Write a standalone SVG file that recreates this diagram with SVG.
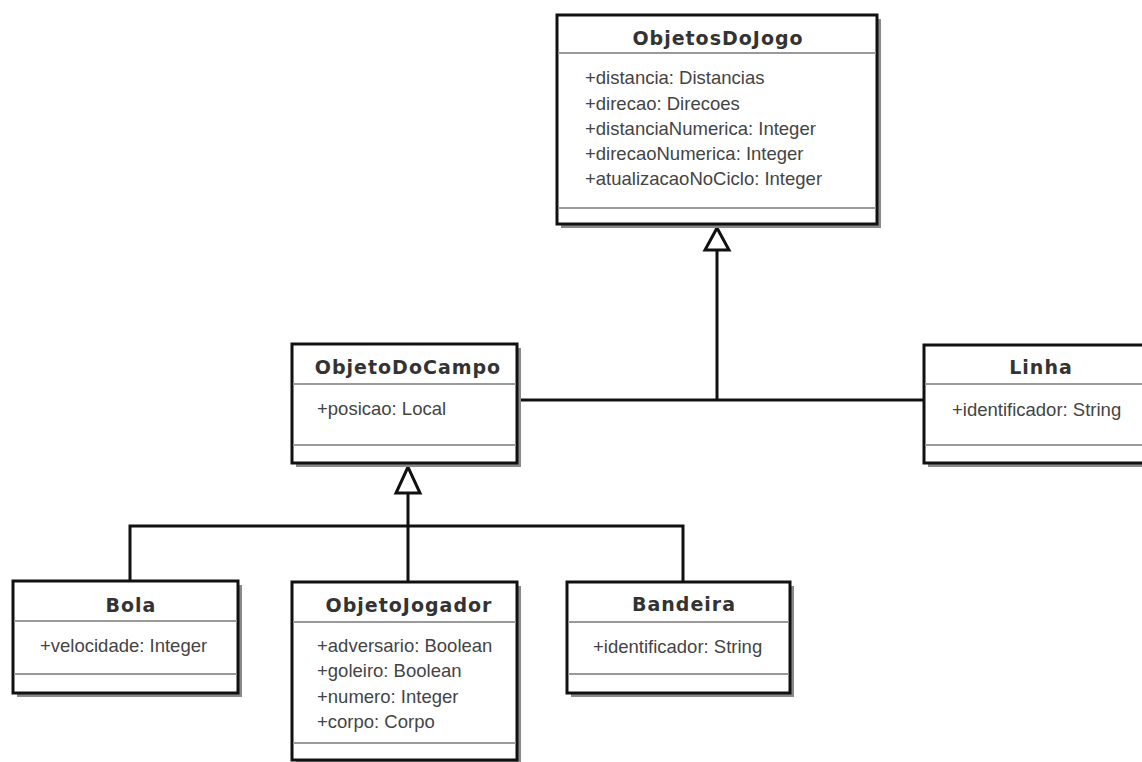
<svg xmlns="http://www.w3.org/2000/svg" width="1142" height="762" viewBox="0 0 1142 762">
  <style>
    .shadow { fill: #8a8a8a; }
    .box { fill: #ffffff; stroke: #111111; stroke-width: 3; }
    .sep { stroke: #9a9a9a; stroke-width: 2; }
    .title { font-family: "DejaVu Sans", Verdana, sans-serif; font-weight: bold; font-size: 19px; letter-spacing: 1px; fill: #333333; text-anchor: middle; }
    .attr { font-family: "Liberation Sans", Arial, sans-serif; font-size: 18.5px; fill: #444444; }
    .edge { fill: none; stroke: #111111; stroke-width: 3; }
    .head { fill: #ffffff; stroke: #111111; stroke-width: 3; stroke-linejoin: miter; }
  </style>

  <!-- generalization connectors -->
  <g id="connectors">
    <path class="edge" d="M717 250 V400 M517 400 H924"/>
    <polygon class="head" points="717,228 705,250 729,250"/>
    <path class="edge" d="M408 493 V582 M130 581 V526 H683 V582"/>
    <polygon class="head" points="408,467 396,493 420,493"/>
  </g>

  <g id="ObjetosDoJogo">
    <rect class="shadow" x="561" y="19" width="320" height="209"/>
    <rect class="box" x="557" y="15" width="320" height="209"/>
    <line class="sep" x1="558" y1="53" x2="876" y2="53"/>
    <line class="sep" x1="558" y1="208" x2="876" y2="208"/>
    <text class="title" x="718" y="45">ObjetosDoJogo</text>
    <text class="attr" x="585" y="84">+distancia: Distancias</text>
    <text class="attr" x="585" y="110">+direcao: Direcoes</text>
    <text class="attr" x="585" y="135">+distanciaNumerica: Integer</text>
    <text class="attr" x="585" y="160">+direcaoNumerica: Integer</text>
    <text class="attr" x="585" y="185">+atualizacaoNoCiclo: Integer</text>
  </g>

  <g id="ObjetoDoCampo">
    <rect class="shadow" x="296" y="348" width="225" height="119"/>
    <rect class="box" x="292" y="344" width="225" height="119"/>
    <line class="sep" x1="293" y1="384" x2="516" y2="384"/>
    <line class="sep" x1="293" y1="445" x2="516" y2="445"/>
    <text class="title" x="408" y="374">ObjetoDoCampo</text>
    <text class="attr" x="317" y="415">+posicao: Local</text>
  </g>

  <g id="Linha">
    <rect class="shadow" x="928" y="349" width="230" height="118"/>
    <rect class="box" x="924" y="345" width="230" height="118"/>
    <line class="sep" x1="925" y1="384" x2="1153" y2="384"/>
    <line class="sep" x1="925" y1="445" x2="1153" y2="445"/>
    <text class="title" x="1041" y="374">Linha</text>
    <text class="attr" x="952" y="416">+identificador: String</text>
  </g>

  <g id="Bola">
    <rect class="shadow" x="17" y="585" width="225" height="112"/>
    <rect class="box" x="13" y="581" width="225" height="112"/>
    <line class="sep" x1="14" y1="621" x2="237" y2="621"/>
    <line class="sep" x1="14" y1="674" x2="237" y2="674"/>
    <text class="title" x="131" y="612">Bola</text>
    <text class="attr" x="40" y="652">+velocidade: Integer</text>
  </g>

  <g id="ObjetoJogador">
    <rect class="shadow" x="296" y="586" width="225" height="178"/>
    <rect class="box" x="292" y="582" width="225" height="178"/>
    <line class="sep" x1="293" y1="622" x2="516" y2="622"/>
    <line class="sep" x1="293" y1="743" x2="516" y2="743"/>
    <text class="title" x="409" y="612">ObjetoJogador</text>
    <text class="attr" x="317" y="652">+adversario: Boolean</text>
    <text class="attr" x="317" y="677">+goleiro: Boolean</text>
    <text class="attr" x="317" y="703">+numero: Integer</text>
    <text class="attr" x="317" y="728">+corpo: Corpo</text>
  </g>

  <g id="Bandeira">
    <rect class="shadow" x="571" y="586" width="223" height="111"/>
    <rect class="box" x="567" y="582" width="223" height="111"/>
    <line class="sep" x1="568" y1="622" x2="789" y2="622"/>
    <line class="sep" x1="568" y1="674" x2="789" y2="674"/>
    <text class="title" x="684" y="611">Bandeira</text>
    <text class="attr" x="593" y="653">+identificador: String</text>
  </g>
</svg>
